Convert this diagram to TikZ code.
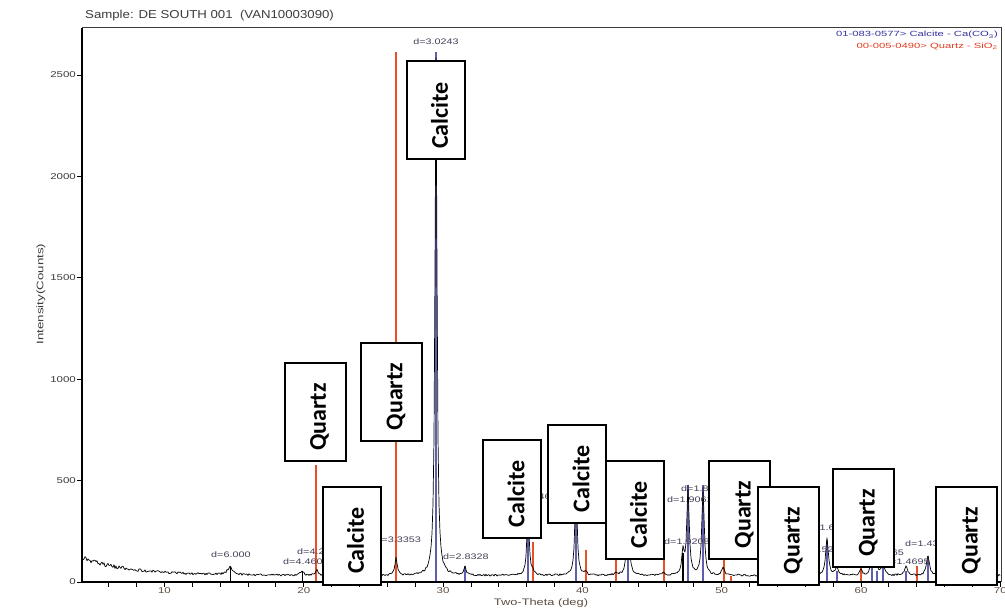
\documentclass[tikz,border=0pt]{standalone}
\usepackage{fontspec}
\setmainfont{Liberation Sans}
\newfontfamily\boxfont{Carlito}
\usepackage{graphicx}
\newcommand{\sx}[1]{\scalebox{1.35}[1]{#1}}
\definecolor{calc}{RGB}{95,95,175}
\definecolor{qrtz}{RGB}{232,80,42}
\definecolor{lblc}{RGB}{70,62,88}
\definecolor{axc}{RGB}{60,60,60}
\definecolor{xlab}{RGB}{95,78,66}
\definecolor{legb}{RGB}{50,50,160}
\definecolor{legr}{RGB}{225,60,30}
\begin{document}
\begin{tikzpicture}[x=1pt,y=-1pt,
  declare function={
    lr(\p,\c,\w)=1/(1+pow(min(abs((\p-\c)/\w),120),2));
    bgf(\p)=6.5+17.2*exp(-(\p-82)/48.8);
    pk(\p)=8*lr(\p,230,3)+4*lr(\p,302,2)+5*lr(\p,317,1.6)+18*lr(\p,396,1.3)
      +517*lr(\p,436,1.2)+8*lr(\p,465,1.4)+67*lr(\p,528,1.3)+3*lr(\p,533,1.4)
      +93*lr(\p,576,1.3)+3*lr(\p,586,1.4)+3*lr(\p,616,1.4)+69*lr(\p,628,1.4)
      +2*lr(\p,663,1.5)+23*lr(\p,683,1.4)+87*lr(\p,688,1.4)+87*lr(\p,703,1.4)
      +8*lr(\p,723,1.5)+12*lr(\p,812,1.6)+37*lr(\p,827,1.6)+8*lr(\p,837,1.6)
      +5*lr(\p,861,1.6)+20*lr(\p,872,1.6)+8*lr(\p,877,1.6)+12*lr(\p,883,1.6)
      +10*lr(\p,906,1.7)+20*lr(\p,928,1.7)+10*lr(\p,941,1.7)+6*lr(\p,968,1.8)
      +7*lr(\p,974,1.8);
  },
  spec/.style={black, line width=0.7pt, line join=round},
  qz/.style={qrtz, line width=1.2pt},
  cc/.style={calc, line width=1.2pt},
  pmark/.style={black, line width=1pt},
  lbl/.style={text=lblc, font=\fontsize{8}{9}\selectfont, inner sep=0pt},
  tlbl/.style={text=axc, font=\fontsize{8.5}{10}\selectfont, inner sep=0pt},
  mbox/.style={draw=black, line width=2pt, fill=white, inner sep=0pt,
    font=\boxfont\bfseries\fontsize{24}{28}\selectfont},
  cbox/.style={mbox, minimum width=58pt, minimum height=98pt},
  qbox/.style={mbox, minimum width=61pt, minimum height=98pt}
]
\useasboundingbox[fill=white] (0,0) rectangle (1005,615);
\pgfmathsetseed{7}

% reference sticks
\foreach \x/\t in {316/465,396/52,533/542,576/540,586/550,616/552,664/552,724/508,731/576,789/561,861/534,917/566,968/548,974/545}
  \draw[qz] (\x,582) -- (\x,\t);
\foreach \x/\t in {345/545,436/52,465/566,528/513,576/487,628/513,683/555,688/485,703/485,813/566,827/540,837/571,872/561,877/571,883/566,906/571,928/556,941/566}
  \draw[cc] (\x,582) -- (\x,\t);

% spectrum
\draw[spec] plot[domain=82:1000, samples=919, variable=\u]
  (\u, {582-bgf(\u)-pk(\u)-(0.3+0.1*bgf(\u))*rand});

% peak markers
\draw[pmark] (230,582) -- (230,567);
\draw[pmark] (302,582) -- (302,571);
\draw[pmark, line width=1.5pt] (683,582) -- (683,553);

% frame and axes
\draw[axc, line width=1pt] (82,28) -- (1001,28) -- (1001,582);
\draw[black, line width=1.2pt] (82,28) -- (82,582) -- (1001,582);
\foreach \t in {6,8,...,70}
  \draw[black, line width=0.9pt] ({164.5+(\t-10)*13.93},582) -- ++(0,5);
\foreach \t in {10,20,...,70}
  \node[tlbl, text=xlab, anchor=north] (xt\t) at ({164.5+(\t-10)*13.93},587) {\sx{\t}};
\foreach \k/\v in {0/0,1/500,2/1000,3/1500,4/2000,5/2500}{
  \draw[black, line width=0.9pt] (82,{582-101.4*\k}) -- ++(-5,0);
  \node[tlbl, anchor=east] (yt\k) at (76,{582-101.4*\k}) {\sx{\v}};
}

% titles
\node[anchor=west, inner sep=0pt, text=axc, font=\fontsize{11.5}{13}\selectfont] (title) at (85,16)
  {\scalebox{1.15}[1]{Sample: DE SOUTH 001\ \ (VAN10003090)}};
\node[anchor=east, inner sep=0pt, text=legb, font=\fontsize{7.5}{9}\selectfont] (leg1) at (998,35)
  {\scalebox{1.5}[1]{01-083-0577> Calcite - Ca(CO\textsubscript{3})}};
\node[anchor=east, inner sep=0pt, text=legr, font=\fontsize{7.5}{9}\selectfont] (leg2) at (998,46)
  {\scalebox{1.5}[1]{00-005-0490> Quartz - SiO\textsubscript{2}}};
\node[inner sep=0pt, text=xlab, font=\fontsize{9.5}{11}\selectfont] (xlabel) at (541,603) {\sx{Two-Theta (deg)}};
\node[inner sep=0pt, text=axc, rotate=90, font=\fontsize{9.5}{11}\selectfont] (ylabel) at (41,294) {\scalebox{1.4}[1]{Intensity(Counts)}};

% peak labels
\node[lbl] (l1) at (436,42) {\sx{d=3.0243}};
\node[lbl, anchor=west] (l2) at (211,555) {\sx{d=6.000}};
\node[lbl, anchor=west] (l3) at (297,552) {\sx{d=4.2569}};
\node[lbl, anchor=west] (l4) at (283,562) {\sx{d=4.460}};
\node[lbl, anchor=east] (l5) at (421,540) {\sx{d=3.3353}};
\node[lbl, anchor=west] (l6) at (443,557) {\sx{d=2.8328}};
\node[lbl] (l7) at (528,497) {\sx{d=2.4946}};
\node[lbl, anchor=west] (l8) at (681,489) {\sx{d=1.8753}};
\node[lbl, anchor=west] (l9) at (667,500) {\sx{d=1.9061}};
\node[lbl, anchor=west] (l10) at (664,542) {\sx{d=1.9208}};
\node[lbl, anchor=west] (l11) at (807,528) {\sx{d=1.6040}};
\node[lbl, anchor=west] (l12) at (800,550) {\sx{d=1.5255}};
\node[lbl, anchor=east] (l13) at (904,553) {\sx{d=1.5165}};
\node[lbl, anchor=west] (l14) at (884,562) {\sx{d=1.4695}};
\node[lbl, anchor=west] (l15) at (905,544) {\sx{d=1.4373}};

% phase boxes
\newcommand{\bt}[1]{\rotatebox{90}{\rule{0pt}{25pt}#1\hspace{10pt}}}
\node[qbox] (b1) at (315,412) {\bt{Quartz}};
\node[qbox] (b2) at (391.5,391.5) {\bt{Quartz}};
\node[cbox] (b3) at (435.5,110.5) {\bt{Calcite}};
\node[cbox] (b4) at (351.5,535.5) {\bt{Calcite}};
\node[cbox] (b5) at (512,489) {\bt{Calcite}};
\node[cbox] (b6) at (577,474) {\bt{Calcite}};
\node[cbox] (b7) at (634.5,510) {\bt{Calcite}};
\node[qbox] (b8) at (739.5,509.5) {\bt{Quartz}};
\node[qbox] (b9) at (788.5,535.5) {\bt{Quartz}};
\node[qbox] (b10) at (863.5,518) {\bt{Quartz}};
\node[qbox] (b11) at (966.5,535.5) {\bt{Quartz}};
\end{tikzpicture}
\end{document}
